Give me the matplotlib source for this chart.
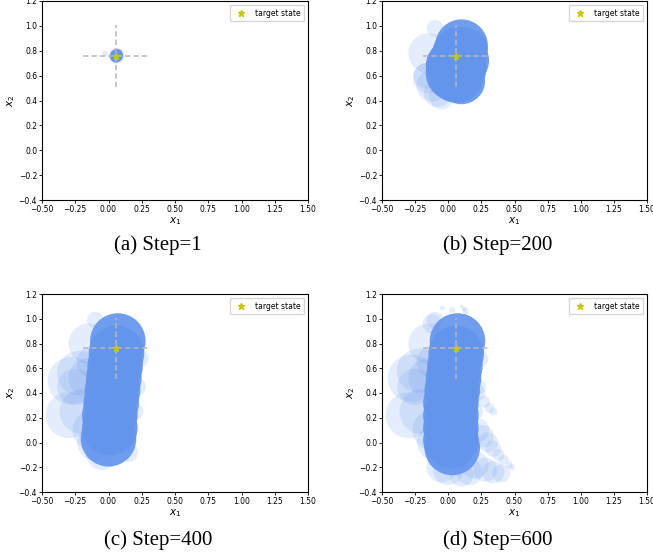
import numpy as np
import matplotlib.pyplot as plt

# target state and the +-0.25 guide cross
target = (0.06, 0.76)
cross_half = 0.25

# circles: centre x1, centre x2, radius (points)
# (a) Step=1
a_body_x1 = [0.06, 0.055, 0.065, 0.06]
a_body_x2 = [0.76, 0.75, 0.77, 0.745]
a_body_r = [4.7, 4.0, 4.0, 3.2]
a_halo_x1 = [-0.026, 0.06]
a_halo_x2 = [0.78, 0.76]
a_halo_r = [2.2, 5.8]

# (b) Step=200
b_body_x1 = [0.10, 0.04, 0.07, 0.06, 0.12, 0.00, 0.08, 0.03, 0.09, 0.13, 0.10]
b_body_x2 = [0.84, 0.62, 0.72, 0.60, 0.80, 0.66, 0.78, 0.68, 0.66, 0.72, 0.56]
b_body_r = [19, 20, 20, 19.5, 17, 16, 19, 19, 19, 17, 17]
b_halo_x1 = [-0.15, -0.10, -0.15, -0.12, -0.08, -0.17, -0.05, 0.22, 0.20]
b_halo_x2 = [0.78, 0.98, 0.58, 0.52, 0.46, 0.60, 0.43, 0.68, 0.50]
b_halo_r = [14.4, 6, 11, 11.5, 10, 9, 9, 7, 6.5]

# (c) Step=400
c_body_x1 = [0.07, 0.06, 0.05, 0.04, 0.03, 0.02, 0.01, 0.01, 0.00]
c_body_x2 = [0.82, 0.72, 0.62, 0.52, 0.42, 0.32, 0.22, 0.12, 0.03]
c_body_r = [20, 20, 20, 20, 20, 20, 20, 20, 20]
c_halo_x1 = [-0.15, -0.10, -0.28, -0.22, -0.15, -0.25, -0.30, -0.20,
             -0.12, -0.10, -0.05, 0.20, 0.22, 0.24, 0.15, -0.12]
c_halo_x2 = [0.80, 0.99, 0.50, 0.56, 0.52, 0.45, 0.22, 0.25,
             0.10, 0.00, -0.10, 0.25, 0.45, 0.68, -0.08, 0.65]
c_halo_r = [14.4, 6, 17, 16, 14.4, 13, 16.5, 16,
            14.4, 13, 11, 6, 6, 6, 7, 11.5]

# (d) Step=600
d_body_x1 = [0.07, 0.06, 0.05, 0.04, 0.03, 0.02, 0.02, 0.02, 0.02, 0.03]
d_body_x2 = [0.82, 0.72, 0.62, 0.52, 0.42, 0.32, 0.22, 0.12, 0.02, -0.04]
d_body_r = [20, 20, 20, 20, 20, 20, 20, 20, 20, 20]
d_halo_x1 = [-0.15, -0.10, -0.28, -0.22, -0.15, -0.25, -0.30, -0.20,
             -0.12, -0.10, -0.05, 0.20, 0.22, 0.24, -0.12, -0.12,
             0.00, 0.10, -0.05, 0.16, 0.20, 0.28, 0.34, 0.40,
             0.22, 0.26, 0.30, 0.34, 0.38, 0.42, 0.46, 0.48,
             0.22, 0.27, 0.31, 0.34,
             -0.045, 0.03, 0.10, 0.12, 0.13]
d_halo_x2 = [0.80, 0.99, 0.52, 0.58, 0.52, 0.45, 0.22, 0.25,
             0.10, 0.00, -0.10, 0.25, 0.45, 0.68, 0.65, 0.96,
             -0.22, -0.26, -0.20, -0.24, -0.18, -0.22, -0.24, -0.25,
             0.10, 0.05, 0.00, -0.05, -0.10, -0.14, -0.18, -0.20,
             0.40, 0.33, 0.28, 0.25,
             1.087, 1.07, 1.10, 1.08, 1.06]
d_halo_r = [14.4, 6, 17, 16, 14.4, 13, 16.5, 16,
            14.4, 13, 11, 6, 6, 6, 11.5, 7,
            11, 8.6, 11, 9.4, 10, 8.6, 8, 6.5,
            8.6, 8, 7.2, 5.8, 4.3, 3.6, 2.5, 2.2,
            5.8, 4.3, 3.6, 2.9,
            1.8, 2.2, 1.4, 1.8, 2.2]

panels = [
    ("(a) Step=1", a_body_x1, a_body_x2, a_body_r, a_halo_x1, a_halo_x2, a_halo_r),
    ("(b) Step=200", b_body_x1, b_body_x2, b_body_r, b_halo_x1, b_halo_x2, b_halo_r),
    ("(c) Step=400", c_body_x1, c_body_x2, c_body_r, c_halo_x1, c_halo_x2, c_halo_r),
    ("(d) Step=600", d_body_x1, d_body_x2, d_body_r, d_halo_x1, d_halo_x2, d_halo_r),
]

W, H = 653, 556
fig = plt.figure(figsize=(W / 100, H / 100), dpi=100)

# axes boxes in pixels: left, top, right, bottom
boxes = [(42, 1, 308, 200), (382, 1, 647, 200),
         (42, 294, 308, 492), (382, 294, 647, 492)]
caption_xy = [(158, 245), (498, 245), (158, 540), (498, 540)]

blue = '#6495ED'
for (cap, bx, by, br, hx, hy, hr), (l, t, r, b), (cx, cy) in zip(panels, boxes, caption_xy):
    ax = fig.add_axes([l / W, 1 - b / H, (r - l) / W, (b - t) / H])
    ax.scatter(hx, hy, s=(2 * np.array(hr)) ** 2, color=blue, alpha=0.17,
               edgecolors='none', zorder=2)
    ax.scatter(bx, by, s=(2 * np.array(br)) ** 2, color=blue, alpha=0.92,
               edgecolors='none', zorder=3)
    ax.plot([target[0] - cross_half, target[0] + cross_half], [target[1], target[1]],
            ls='--', color='#b8b8b8', lw=1.1, dashes=(3.5, 2), zorder=4)
    ax.plot([target[0], target[0]], [target[1] - cross_half, target[1] + cross_half],
            ls='--', color='#b8b8b8', lw=1.1, dashes=(3.5, 2), zorder=4)
    ax.plot(target[0], target[1], '*', color='#c8c800', ms=5, ls='none',
            label='target state', zorder=5)
    ax.set_xlim(-0.5, 1.5)
    ax.set_ylim(-0.4, 1.2)
    ax.set_xticks(np.arange(-0.5, 1.51, 0.25))
    ax.set_yticks(np.arange(-0.4, 1.21, 0.2))
    ax.tick_params(labelsize=5.5, length=2, width=0.6, pad=1.5)
    for sp in ax.spines.values():
        sp.set_linewidth(0.8)
    ax.set_xlabel('$x_1$', fontsize=7.5, labelpad=1)
    ax.set_ylabel('$x_2$', fontsize=7.5, labelpad=1)
    ax.legend(loc='upper right', fontsize=5.5, handletextpad=0.8, borderpad=0.5,
              framealpha=0.8)
    fig.text(cx / W, 1 - cy / H, cap, ha='center', va='center',
             fontsize=15, family='Liberation Serif')

fig.savefig('out.png', dpi=100)
